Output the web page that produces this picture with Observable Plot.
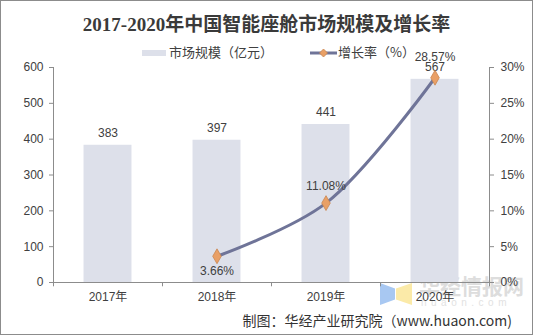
<!DOCTYPE html>
<html><head><meta charset="utf-8">
<script src="https://cdn.jsdelivr.net/npm/d3@7"></script>
<script src="https://cdn.jsdelivr.net/npm/@observablehq/plot@0.6"></script>
<style>
body{margin:0;background:#fff;}
#wrap{position:relative;width:533px;height:335px;background:#fff;outline:1px solid #8c8c8c;outline-offset:-1px;overflow:hidden;font-family:Arial,"Liberation Sans","Noto Sans CJK SC",sans-serif;}
#title{position:absolute;left:0;top:12px;width:533px;text-align:center;font-family:"Liberation Serif","Noto Sans CJK SC",serif;font-weight:bold;font-size:19px;color:#3a3a3a;line-height:26px;}
#legend{position:absolute;left:0;top:42px;width:533px;height:20px;font-family:"Noto Sans CJK SC",sans-serif;font-size:13px;color:#404040;}
.lg{position:absolute;top:0;line-height:20px;white-space:nowrap;}
#chart{position:absolute;left:0;top:44px;}
#footer{position:absolute;right:21px;top:310px;font-family:"Noto Sans CJK SC",sans-serif;font-size:14px;color:#333;white-space:nowrap;line-height:20px;}
#wm{position:absolute;left:419px;top:272px;color:#d2d2d2;font-family:"Noto Sans CJK SC",sans-serif;font-weight:bold;font-size:21px;line-height:26px;opacity:0.75;}
#wm2{position:absolute;left:421px;top:297px;color:#e2e2e2;font-size:10px;letter-spacing:4.5px;line-height:12px;}
#logoB{position:absolute;left:380px;top:283px;width:15px;height:22px;background:#a8c8f2;clip-path:polygon(0 0,100% 25%,100% 75%,0 100%);}
#logoY{position:absolute;left:396px;top:283px;width:16px;height:22px;background:#fbeaa8;clip-path:polygon(0 25%,100% 0,100% 100%,0 75%);}
</style></head>
<body>
<div id="wrap">
  <div id="title"></div>
  <div id="legend"></div>
  <div id="logoB"></div><div id="logoY"></div>
  <div id="wm">华经情报网</div>
  <div id="wm2">huaon.com</div>
  <div id="chart"></div>
  <div id="footer"></div>
</div>
<script>
const titleText = "2017-2020年中国智能座舱市场规模及增长率";
const seriesNames = ["市场规模（亿元）", "增长率（%）"];
const years = ["2017年", "2018年", "2019年", "2020年"];
const market = [383, 397, 441, 567];
const growth = [null, 3.66, 11.08, 28.57];
const leftTicks = [0, 100, 200, 300, 400, 500, 600];
const rightTicks = [0, 5, 10, 15, 20, 25, 30];
const footerText = "制图：华经产业研究院（www.huaon.com)";

const barColor = "#dde0ea";
const lineColor = "#6f7498";
const dotFill = "#e9a066";
const dotStroke = "#c98752";
const axisColor = "#8c8c8c";
const textColor = "#404040";

document.getElementById("title").textContent = titleText;
document.getElementById("footer").textContent = footerText;

// legend
const lg = document.getElementById("legend");
lg.innerHTML = `
<div class="lg" style="left:142px;"><span style="display:inline-block;width:24px;height:6px;background:${barColor};vertical-align:middle;margin-right:3px;"></span>${seriesNames[0]}</div>
<div class="lg" style="left:310px;"><svg width="27" height="10" style="vertical-align:middle;margin-right:1px;"><line x1="0" x2="27" y1="5" y2="5" stroke="${lineColor}" stroke-width="3"/><path d="M13.5,1 L17.5,5 L13.5,9 L9.5,5Z" fill="${dotFill}" stroke="${dotStroke}" stroke-width="0.8"/></svg>${seriesNames[1]}</div>`;

const data = years.map((y, i) => ({year: y, market: market[i], growth: growth[i]}));
const lineData = data.filter(d => d.growth != null);
const k = leftTicks[leftTicks.length - 1] / rightTicks[rightTicks.length - 1]; // map % to left scale

const W = 533, H = 264, mL = 53, mR = 44, mT = 23, mB = 26;
const step = (W - mL - mR) / years.length;
const fmtPct = v => v.toFixed(2) + "%";

const chart = Plot.plot({
  width: W, height: H,
  marginLeft: mL, marginRight: mR, marginTop: mT, marginBottom: mB,
  style: {fontFamily: "Arial, 'Liberation Sans', 'Noto Sans CJK SC', sans-serif", fontSize: "12px", color: textColor, background: "transparent", overflow: "visible"},
  x: {domain: years, padding: 0},
  y: {domain: [leftTicks[0], leftTicks[leftTicks.length - 1]]},
  marks: [
    Plot.barY(data, {x: "year", y: "market", fill: barColor, insetLeft: step * 0.28, insetRight: step * 0.28}),
    Plot.frame({anchor: "left", stroke: axisColor}),
    Plot.frame({anchor: "right", stroke: axisColor}),
    Plot.frame({anchor: "bottom", stroke: axisColor}),
    Plot.axisY({anchor: "left", ticks: leftTicks, tickSize: 4, tickPadding: 6, stroke: axisColor, label: null, fill: textColor}),
    Plot.axisY({anchor: "right", ticks: rightTicks.map(v => v * k), tickFormat: d => (d / k) + "%", tickSize: 4, tickPadding: 7, stroke: axisColor, label: null, fill: textColor}),
    Plot.axisX({tickSize: 0, tickPadding: 10, label: null, fill: textColor, fontFamily: "Arial, 'Noto Sans CJK SC', sans-serif"}),
    Plot.ruleX(years, {x: d => d, dx: -step / 2, y1: 0, y2: -12, stroke: axisColor}),
    Plot.ruleX([years[years.length - 1]], {x: d => d, dx: step / 2, y1: 0, y2: -12, stroke: axisColor}),
    Plot.text(data, {x: "year", y: "market", text: d => String(d.market), dy: -12, fill: textColor}),
    Plot.line(lineData, {x: "year", y: d => d.growth * k, stroke: lineColor, strokeWidth: 3, curve: "catmull-rom"}),
    Plot.dot(lineData, {x: "year", y: d => d.growth * k, symbol: "diamond", r: 4.5, fill: dotFill, stroke: dotStroke, strokeWidth: 0.8}),
    Plot.text(lineData.filter((d, i) => i === 0), {x: "year", y: d => d.growth * k, text: d => fmtPct(d.growth), dy: 15, fill: textColor}),
    Plot.text(lineData.filter((d, i) => i === 1), {x: "year", y: d => d.growth * k, text: d => fmtPct(d.growth), dy: -17, fill: textColor}),
    Plot.text(lineData.filter((d, i) => i === 2), {x: "year", y: d => d.growth * k, text: d => fmtPct(d.growth), dy: -21, dx: 0, fill: textColor})
  ]
});
document.getElementById("chart").appendChild(chart);
</script>
</body></html>
